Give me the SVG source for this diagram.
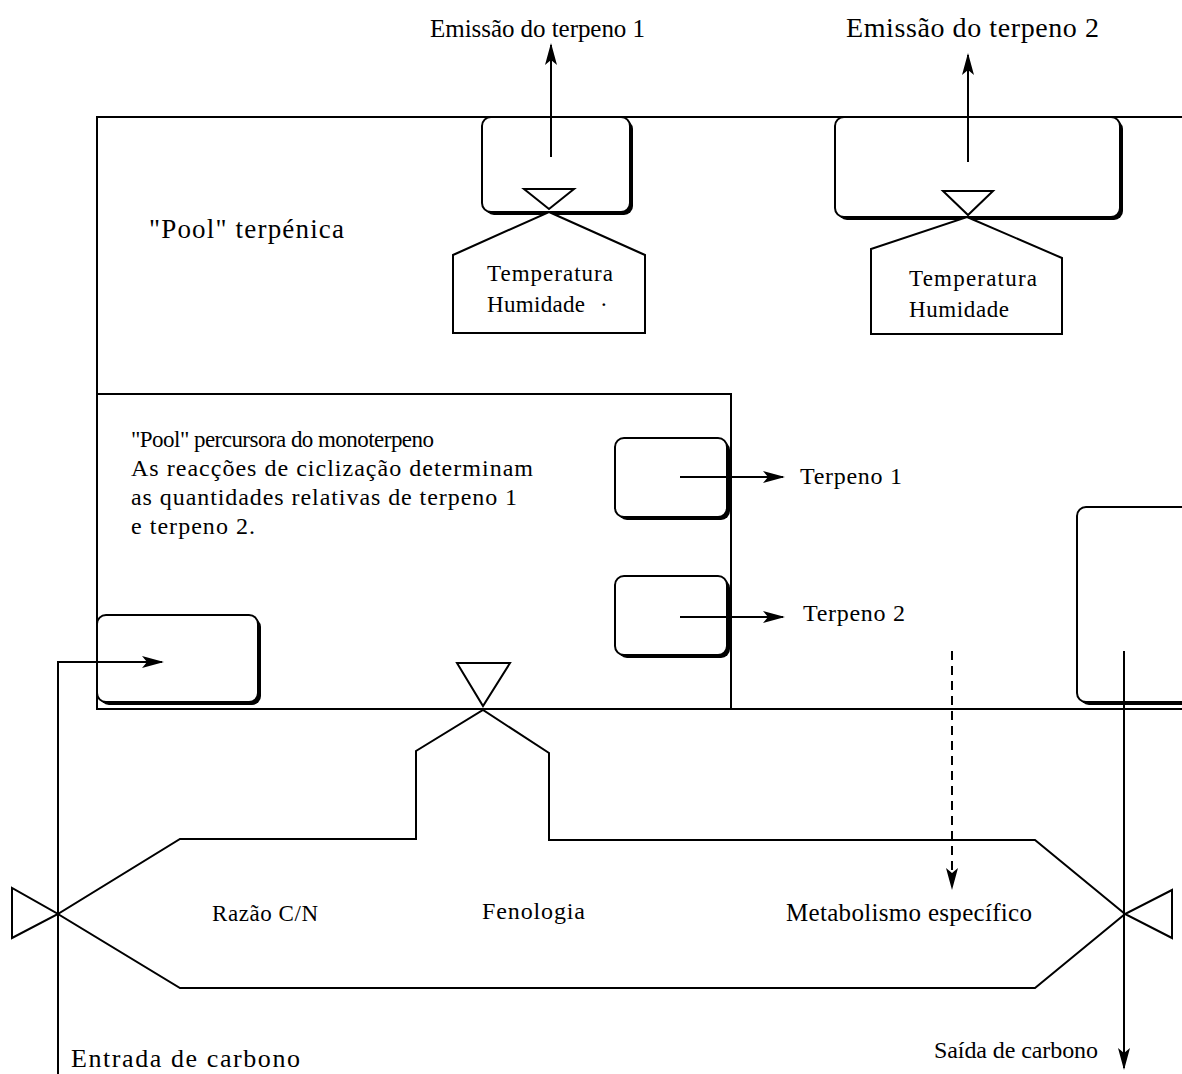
<svg xmlns="http://www.w3.org/2000/svg" width="1182" height="1074" viewBox="0 0 1182 1074">
<defs>
<marker id="ah" markerUnits="userSpaceOnUse" markerWidth="22" markerHeight="12" refX="20" refY="6" orient="auto">
<path d="M0,0 L22,6 L0,12 L5,6 z" fill="#000"/>
</marker>
</defs>
<style>
.ln{fill:none;stroke:#000;stroke-width:2}
.box{fill:#fff;stroke:#000;stroke-width:2}
.sh{fill:#000}
.t{font-family:"Liberation Serif","Times New Roman",serif;fill:#000}
</style>
<rect width="1182" height="1074" fill="#fff"/>

<g id="pool-terpenica">
<polyline class="ln" points="1182,117 97,117 97,709 1182,709"/>
<text class="t" x="149" y="238" font-size="27" textLength="195">"Pool" terpénica</text>
</g>

<g id="pool-percursora">
<polyline class="ln" points="97,394 731,394 731,709"/>
<text class="t" x="131" y="447" font-size="23" textLength="303">"Pool" percursora do monoterpeno</text>
<text class="t" x="131" y="476" font-size="24" textLength="402">As reacções de ciclização determinam</text>
<text class="t" x="131" y="505" font-size="24" textLength="386">as quantidades relativas de  terpeno 1</text>
<text class="t" x="131" y="534" font-size="24" textLength="124">e terpeno 2.</text>
</g>

<g id="box-emissao1">
<rect class="sh" x="485" y="120" width="148" height="95" rx="9"/>
<rect class="box" x="482" y="117" width="148" height="95" rx="9"/>
<polygon class="ln" points="524,189 574,189 549,209"/>
</g>

<g id="box-emissao2">
<rect class="sh" x="838" y="120" width="285" height="100" rx="9"/>
<rect class="box" x="835" y="117" width="285" height="100" rx="9"/>
<polygon class="ln" points="943,191 993,191 968,215"/>
</g>

<g id="clima1">
<polygon class="box" points="549,212 645,255 645,333 453,333 453,255"/>
<text class="t" x="487" y="281" font-size="23" textLength="126">Temperatura</text>
<text class="t" x="487" y="312" font-size="23" textLength="98">Humidade</text>
<text class="t" x="600" y="312" font-size="23">·</text>
</g>

<g id="clima2">
<polygon class="box" points="967,217 1062,258 1062,334 871,334 871,249"/>
<text class="t" x="909" y="286" font-size="23" textLength="128">Temperatura</text>
<text class="t" x="909" y="317" font-size="23" textLength="100">Humidade</text>
</g>

<g id="box-terpeno1">
<rect class="sh" x="618" y="441" width="112" height="79" rx="9"/>
<rect class="box" x="615" y="438" width="112" height="79" rx="9"/>
</g>
<g id="box-terpeno2">
<rect class="sh" x="618" y="579" width="112" height="79" rx="9"/>
<rect class="box" x="615" y="576" width="112" height="79" rx="9"/>
</g>

<g id="box-entrada">
<rect class="sh" x="100" y="618" width="161" height="87" rx="9"/>
<rect class="box" x="97" y="615" width="161" height="87" rx="9"/>
</g>

<g id="box-saida">
<rect class="sh" x="1080" y="510" width="120" height="195" rx="9"/>
<rect class="box" x="1077" y="507" width="120" height="195" rx="9"/>
</g>

<g id="valvula-fenologia">
<polygon class="ln" points="457,663 510,663 483,706"/>
</g>

<g id="metabolismo">
<polygon class="ln" points="180,839 416,839 416,751 483,710 549,753 549,840 1035,840 1125,914 1035,988 180,988 58,914"/>
<polygon class="ln" points="12,888 12,938 58,914"/>
<polygon class="ln" points="1172,890 1172,938 1125,914"/>
<text class="t" x="212" y="921" font-size="23" textLength="106">Razão C/N</text>
<text class="t" x="482" y="919" font-size="24" textLength="103">Fenologia</text>
<text class="t" x="786" y="921" font-size="25" textLength="246">Metabolismo específico</text>
</g>

<g id="labels">
<text class="t" x="430" y="37" font-size="25" textLength="215">Emissão do terpeno 1</text>
<text class="t" x="846" y="37" font-size="28" textLength="253">Emissão do terpeno 2</text>
<text class="t" x="800" y="484" font-size="24" textLength="102">Terpeno 1</text>
<text class="t" x="803" y="621" font-size="24" textLength="102">Terpeno 2</text>
<text class="t" x="71" y="1067" font-size="26" textLength="229">Entrada de carbono</text>
<text class="t" x="934" y="1058" font-size="24" textLength="164">Saída de carbono</text>
</g>

<g id="connectors">
<line class="ln" x1="551" y1="157" x2="551" y2="45" marker-end="url(#ah)"/>
<line class="ln" x1="968" y1="162" x2="968" y2="55" marker-end="url(#ah)"/>
<line class="ln" x1="680" y1="477" x2="783" y2="477" marker-end="url(#ah)"/>
<line class="ln" x1="680" y1="617" x2="783" y2="617" marker-end="url(#ah)"/>
<polyline class="ln" points="58,1074 58,662 162,662" marker-end="url(#ah)"/>
<line class="ln" x1="1124" y1="651" x2="1124" y2="1068" marker-end="url(#ah)"/>
<line class="ln" x1="952" y1="651" x2="952" y2="888" stroke-dasharray="9,6" marker-end="url(#ah)"/>
</g>
</svg>
